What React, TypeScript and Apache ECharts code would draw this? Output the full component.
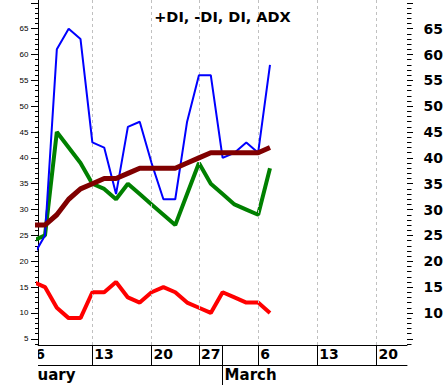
import React, { useEffect, useRef } from 'react';
import * as echarts from 'echarts';

// trading-day index 0 = Feb 6
const plusDI = [21, 25, 61, 65, 63, 43, 42, 33, 46, 47, 39, 32, 32, 47, 56, 56, 40, 41, 43, 41, 58];
const minusDI = [24, 25, 45, 42, 39, 35, 34, 32, 35, 33, 31, 29, 27, 33, 39, 35, 33, 31, 30, 29, 38];
const diValues = [16, 15, 11, 9, 9, 14, 14, 16, 13, 12, 14, 15, 14, 12, 11, 10, 14, 13, 12, 12, 10];
const adxValues = [27, 27, 29, 32, 34, 35, 36, 36, 37, 38, 38, 38, 38, 39, 40, 41, 41, 41, 41, 41, 42];

const dayLabels = ['6', '13', '20', '27', '6', '13', '20'];
const dayIndex = [0, 5, 10, 14, 19, 24, 29];
const monthLabels = ['February', 'March'];
const monthIndex = [-3, 16];

const majorTicks = [5, 10, 15, 20, 25, 30, 35, 40, 45, 50, 55, 60, 65, 70];
const leftLabels = [5, 10, 15, 20, 25, 30, 35, 40, 45, 50, 55, 60, 65];
const rightLabels = [10, 15, 20, 25, 30, 35, 40, 45, 50, 55, 60, 65];

const X_MIN = 0.41;
const X_MAX = 31.57;
const Y_MIN = 3.8;
const Y_MAX = 70.55;

const minorTicks: number[] = [];
for (let v = 4; v <= 70; v++) if (v % 5 !== 0) minorTicks.push(v);

const BOLD = '"DejaVu Sans", sans-serif';

export default function App() {
  const ref = useRef<HTMLDivElement>(null);
  useEffect(() => {
    if (!ref.current) return;
    const chart = echarts.init(ref.current, null, { renderer: 'svg' });
    const line = (name: string, values: number[], color: string, width: number, z: number) => ({
      type: 'line',
      name,
      data: values.map((v, i) => [i, v]),
      xAxisIndex: 0,
      yAxisIndex: 0,
      symbol: 'none',
      showSymbol: false,
      clip: true,
      silent: true,
      z,
      lineStyle: { color, width },
      itemStyle: { color },
    });
    const yBase = {
      type: 'value',
      min: Y_MIN,
      max: Y_MAX,
      splitLine: { show: false },
      axisLine: { show: false, onZero: false },
    };
    const xBase = {
      type: 'value',
      min: X_MIN,
      max: X_MAX,
      position: 'bottom',
      gridIndex: 0,
      splitLine: { show: false },
      axisLabel: { show: false },
    };
    chart.setOption({
      animation: false,
      backgroundColor: '#ffffff',
      title: {
        text: '+DI, -DI, DI, ADX',
        left: 'center',
        top: 4,
        textStyle: { fontFamily: BOLD, fontWeight: 'bold', fontSize: 14.5, color: '#000' },
      },
      grid: { left: 38, right: 38, top: 0, bottom: 40, outerBoundsMode: 'none', containLabel: false },
      xAxis: [
        {
          ...xBase,
          axisLine: { show: true, onZero: false, lineStyle: { color: '#000', width: 1 } },
          axisTick: {
            show: true,
            customValues: dayIndex.filter((v) => v > X_MIN),
            length: 20,
            lineStyle: { color: '#000' },
          },
        },
        {
          ...xBase,
          axisLine: { show: false, onZero: false },
          axisTick: {
            show: true,
            customValues: monthIndex.filter((v) => v > X_MIN),
            length: 40,
            lineStyle: { color: '#000' },
          },
        },
        {
          ...xBase,
          offset: 20,
          axisLine: { show: true, onZero: false, lineStyle: { color: '#000', width: 1 } },
          axisTick: { show: false },
        },
      ],
      yAxis: [
        {
          ...yBase,
          position: 'left',
          axisLine: { show: true, onZero: false, lineStyle: { color: '#000' } },
          axisTick: { show: true, customValues: majorTicks, length: 7, lineStyle: { color: '#000' } },
          axisLabel: {
            show: true,
            customValues: leftLabels,
            margin: 9.5,
            fontSize: 8,
            fontFamily: 'Liberation Sans, Arial, sans-serif',
            color: '#000',
          },
        },
        {
          ...yBase,
          position: 'left',
          axisTick: { show: true, customValues: minorTicks, length: 3, lineStyle: { color: '#000' } },
          axisLabel: { show: false },
        },
        {
          ...yBase,
          position: 'right',
          axisTick: { show: true, customValues: majorTicks, length: 6, lineStyle: { color: '#000' } },
          axisLabel: {
            show: true,
            customValues: rightLabels,
            margin: 16.5,
            fontSize: 14,
            fontWeight: 'bold',
            fontFamily: BOLD,
            color: '#000',
          },
        },
        {
          ...yBase,
          position: 'right',
          axisTick: { show: true, customValues: minorTicks, length: 4.5, lineStyle: { color: '#000' } },
          axisLabel: { show: false },
        },
      ],
      series: [
        {
          type: 'line',
          data: [],
          xAxisIndex: 0,
          yAxisIndex: 0,
          z: 1,
          silent: true,
          markLine: {
            silent: true,
            symbol: ['none', 'none'],
            label: { show: false },
            lineStyle: { color: '#c0c0c0', type: [3, 3], width: 1 },
            data: dayIndex.filter((v) => v > X_MIN).map((v) => ({ xAxis: v })),
          },
        },
        line('-DI', minusDI, '#008000', 4, 3),
        line('DI', diValues, '#ff0000', 4, 4),
        line('+DI', plusDI, '#0000ff', 2, 5),
        line('ADX', adxValues, '#800000', 5, 6),
      ],
    });

    const gridLeft = chart.convertToPixel({ xAxisIndex: 0 }, X_MIN) as number;
    const texts: any[] = [];
    dayIndex.forEach((d, k) => {
      const px = chart.convertToPixel({ xAxisIndex: 0 }, d) as number;
      texts.push({
        type: 'text',
        x: px + 2,
        y: 347,
        z: 50,
        style: { text: dayLabels[k], font: `bold 14px ${BOLD}`, fill: '#000' },
      });
    });
    monthIndex.forEach((m, k) => {
      const px = chart.convertToPixel({ xAxisIndex: 0 }, m) as number;
      texts.push({
        type: 'text',
        x: px + 2,
        y: 367,
        z: 50,
        style: { text: monthLabels[k], font: `bold 15px ${BOLD}`, fill: '#000' },
      });
    });
    texts.push({
      type: 'rect',
      z: 100,
      shape: { x: 0, y: 345.5, width: gridLeft, height: 40 },
      style: { fill: '#ffffff' },
    });
    chart.setOption({ graphic: texts });

    return () => chart.dispose();
  }, []);
  return (
    <div
      ref={ref}
      style={{ position: 'fixed', left: 0, top: 0, width: 445, height: 385, background: '#fff' }}
    />
  );
}
